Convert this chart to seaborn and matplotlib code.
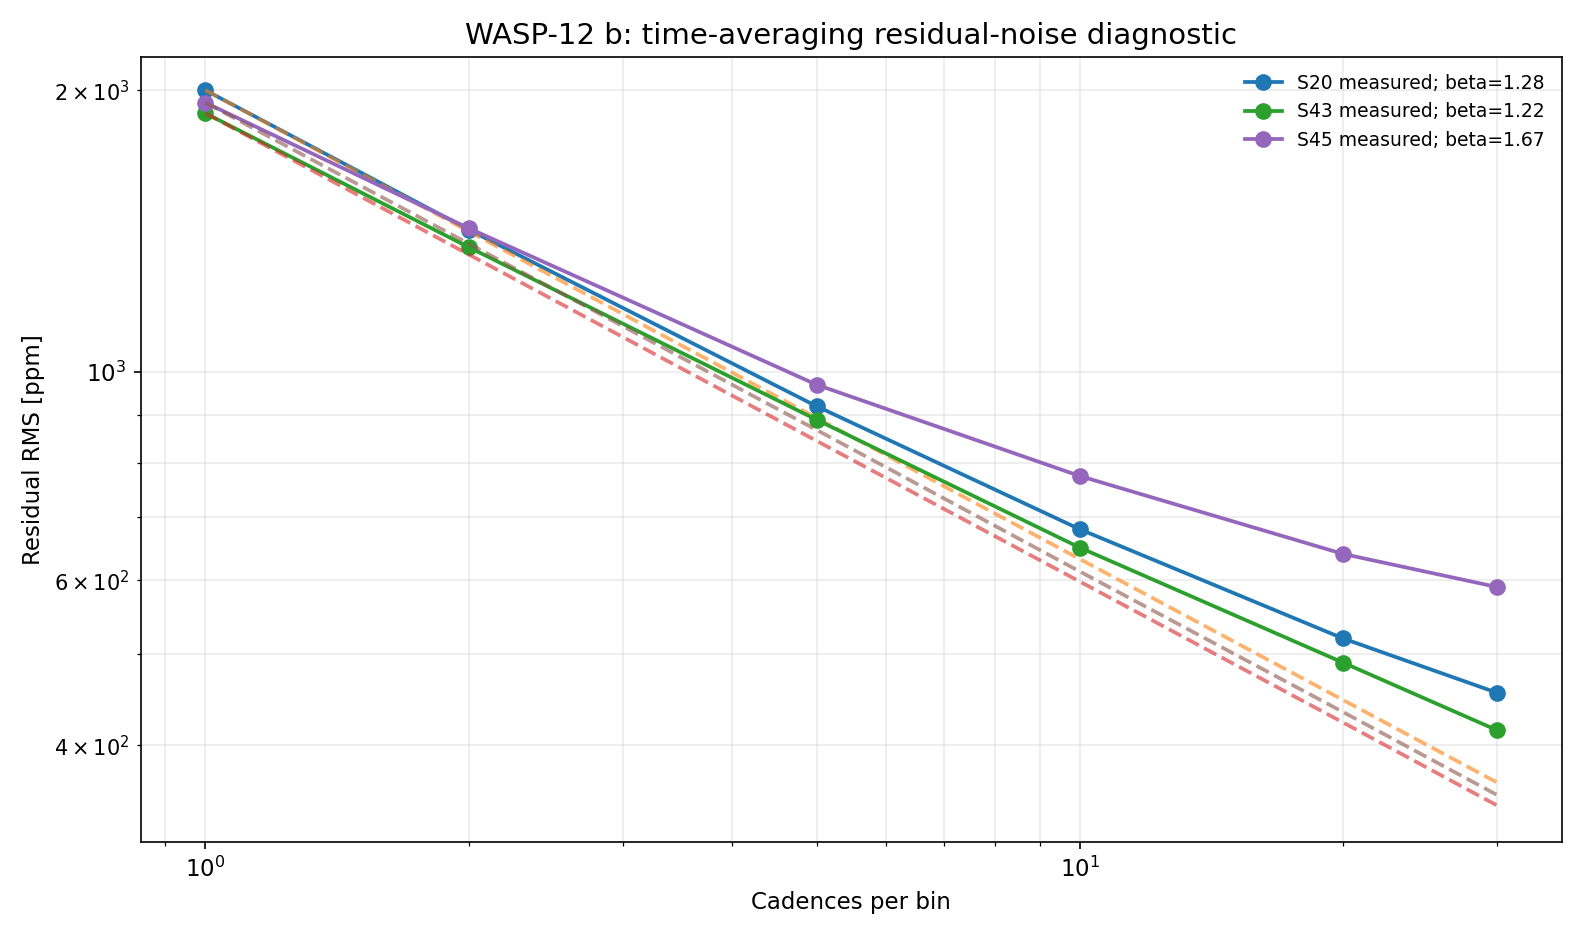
import matplotlib
matplotlib.use('Agg')
import matplotlib.pyplot as plt
import seaborn as sns
import pandas as pd

cadences = [1, 2, 5, 10, 20, 30]

# measured residual rms [ppm]
s20_rms = [2000, 1420, 920, 680, 520, 455]
s43_rms = [1890, 1360, 890, 650, 490, 415]
s45_rms = [1940, 1425, 970, 775, 640, 590]

# white-noise expectation
s20_white = [2000, 1414, 894, 632, 447, 365]
s43_white = [1890, 1336, 845, 598, 423, 345]
s45_white = [1940, 1372, 868, 613, 434, 354]

labels = ["S20 measured; beta=1.28", "S43 measured; beta=1.22", "S45 measured; beta=1.67"]
colors = ["tab:blue", "tab:green", "tab:purple"]
white_colors = ["tab:orange", "tab:red", "tab:brown"]

fig, ax = plt.subplots(figsize=(10.56, 6.24), dpi=150)

for meas, white, lab, c, wc in zip([s20_rms, s43_rms, s45_rms],
                                   [s20_white, s43_white, s45_white],
                                   labels, colors, white_colors):
    df = pd.DataFrame({"n": cadences, "rms": meas, "white": white})
    sns.lineplot(data=df, x="n", y="rms", ax=ax, color=c, marker="o",
                 markersize=8, markeredgewidth=0, linewidth=1.8, label=lab)
    sns.lineplot(data=df, x="n", y="white", ax=ax, color=wc, linestyle="--",
                 linewidth=1.8, alpha=0.6)

ax.set_xscale("log")
ax.set_yscale("log")
ax.set_ylim(315, 2170)
ax.grid(True, which="both", alpha=0.25)
ax.tick_params(labelsize=11)
ax.set_xlabel("Cadences per bin", fontsize=11)
ax.set_ylabel("Residual RMS [ppm]", fontsize=11)
ax.set_title("WASP-12 b: time-averaging residual-noise diagnostic", fontsize=14)
ax.legend(loc="upper right", frameon=False, fontsize=9)

plt.tight_layout()
plt.savefig("out.png", dpi=150)
